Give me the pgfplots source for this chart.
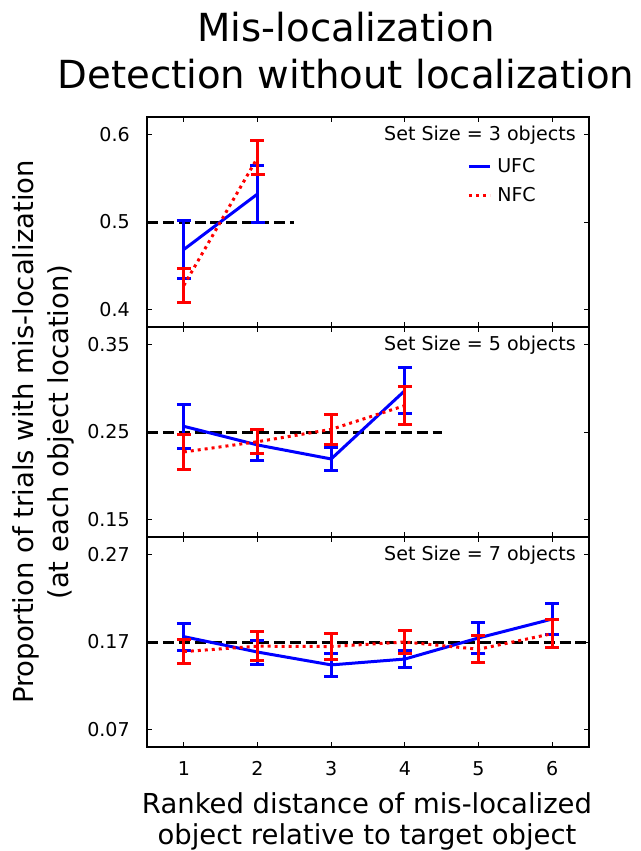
\documentclass[border=0pt]{standalone}
\usepackage{pgfplots}
\pgfplotsset{compat=1.18}
\usepackage{fontspec}
\setmainfont{DejaVu Sans}

\definecolor{ufc}{RGB}{0,0,255}
\definecolor{nfc}{RGB}{255,0,0}

\newcommand{\tickfont}{\fontsize{14.3}{17}\selectfont}
\newcommand{\labfont}{\fontsize{20.6}{25}\selectfont}

\tikzset{setlabel/.style={anchor=base east, inner sep=0pt, font=\tickfont, xshift=-9.75pt, yshift=-17.25pt}}

\pgfplotsset{
  panel/.style={
    width=331.5pt, height=157.5pt, scale only axis,
    xmin=0.5, xmax=6.5, xtick={1,...,6},
    tick align=inside, major tick length=3.75pt,
    every tick/.style={black, line width=0.75pt},
    axis line style={line width=0.8pt},
    ticklabel style={font=\tickfont},
    yticklabel style={inner sep=0pt, xshift=-12.75pt},
    xticklabel style={inner sep=0pt, yshift=-10.5pt},
    xticklabels={},
  },
  errs/.style={
    mark=none, line width=2.25pt, #1,
    error bars/.cd, y dir=both, y explicit,
    error bar style={line width=2.25pt, solid, #1},
    error mark options={line width=2.25pt, solid, rotate=90, mark size=5.25pt, #1},
  },
  chance/.style={black, line width=2.25pt, dash pattern=on 8.3pt off 3.6pt, forget plot},
  dotted red/.style={dash pattern=on 2.25pt off 3pt},
}

\begin{document}
\begin{tikzpicture}
\path[use as bounding box] (0,0) rectangle (480.75pt,-638.25pt);

% title
\node[anchor=base, font=\fontsize{29}{35}\selectfont] at (259.5pt,-31.3pt) {Mis-localization};
\node[anchor=base, font=\fontsize{29}{35}\selectfont] at (259.5pt,-66.2pt) {Detection without localization};

% set size 3
\begin{axis}[panel, name=p1, at={(110.25pt,-87.75pt)}, anchor=north west,
  ymin=0.38, ymax=0.62, ytick={0.4,0.5,0.6}, yticklabels={0.4,0.5,0.6},
  legend style={draw=none, fill=none, at={(0.724,0.806)}, anchor=north west,
    inner sep=0pt, font=\tickfont, row sep=10pt, cells={anchor=west},
    nodes={inner xsep=4.5pt, inner ysep=0pt}},
  legend image code/.code={\draw[#1] plot coordinates {(0pt,0pt) (15.75pt,0pt)};}]
\addplot[chance] coordinates {(0.5,0.5) (2.5,0.5)};
\addplot[errs=ufc] table[y error=e] {
x y e
1 0.4686 0.0330
2 0.5320 0.0325
};
\addlegendentry{UFC}
\addplot[dotted red, errs=nfc] table[y error=e] {
x y e
1 0.4275 0.0195
2 0.5735 0.0195
};
\addlegendentry{NFC}
\node[setlabel] at (rel axis cs:1,1) {Set Size = 3 objects};
\end{axis}

% set size 5
\begin{axis}[panel, name=p2, at={(p1.south west)}, anchor=north west,
  ymin=0.13, ymax=0.37, ytick={0.15,0.25,0.35}, yticklabels={0.15,0.25,0.35}]
\addplot[chance] coordinates {(0.5,0.25) (4.5,0.25)};
\addplot[errs=ufc] table[y error=e] {
x y e
1 0.2565 0.0250
2 0.2352 0.0180
3 0.2192 0.0136
4 0.2973 0.0263
};
\addplot[dotted red, errs=nfc] table[y error=e] {
x y e
1 0.2272 0.0197
2 0.2389 0.0138
3 0.2530 0.0169
4 0.2802 0.0219
};
\node[setlabel] at (rel axis cs:1,1) {Set Size = 5 objects};
\end{axis}

% set size 7
\begin{axis}[panel, name=p3, at={(p2.south west)}, anchor=north west,
  ymin=0.04667, ymax=0.28667, ytick={0.06667,0.16667,0.26667}, yticklabels={0.07,0.17,0.27},
  xticklabels={1,2,3,4,5,6}]
\addplot[chance] coordinates {(0.5,0.16667) (6.5,0.16667)};
\addplot[errs=ufc] table[y error=e] {
x y e
1 0.1728 0.0153
2 0.1552 0.0137
3 0.1405 0.0132
4 0.1472 0.0096
5 0.1713 0.0172
6 0.1929 0.0182
};
\addplot[dotted red, errs=nfc] table[y error=e] {
x y e
1 0.1557 0.0134
2 0.1619 0.0166
3 0.1615 0.0144
4 0.1667 0.0130
5 0.1584 0.0157
6 0.1762 0.0157
};
\node[setlabel] at (rel axis cs:1,1) {Set Size = 7 objects};
\end{axis}

% axis labels
\node[anchor=base, rotate=90, font=\labfont] at (25pt,-324pt) {Proportion of trials with mis-localization};
\node[anchor=base, rotate=90, font=\labfont] at (51pt,-324pt) {(at each object location)};
\node[anchor=base, font=\labfont] at (275.25pt,-610.2pt) {Ranked distance of mis-localized};
\node[anchor=base, font=\labfont] at (275.25pt,-633pt) {object relative to target object};
\end{tikzpicture}
\end{document}
